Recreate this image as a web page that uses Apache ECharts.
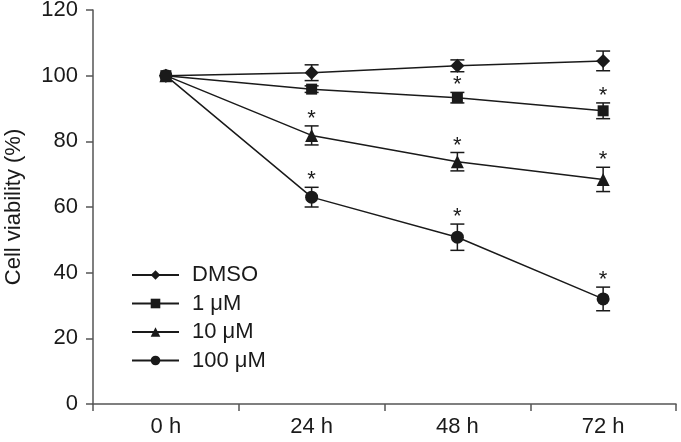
<!DOCTYPE html>
<html>
<head>
<meta charset="utf-8">
<script src="https://cdn.jsdelivr.net/npm/echarts@6/dist/echarts.min.js"></script>
<style>
  html, body { margin: 0; padding: 0; background: #fff; }
  #main { width: 681px; height: 442px; }
</style>
</head>
<body>
<div id="main"></div>
<script>
// categories and values
var categories = ['0 h', '24 h', '48 h', '72 h'];
var names = ['DMSO', '1 μM', '10 μM', '100 μM'];

var dmso = [100, 100.9, 103.0, 104.5];
var dmsoErr = [0, 2.4, 1.8, 3.0];
var dmsoSig = [0, 0, 0, 0];

var um1 = [100, 95.9, 93.3, 89.3];
var um1Err = [0, 1.0, 1.6, 2.4];
var um1Sig = [0, 0, 1, 1];

var um10 = [100, 81.8, 73.8, 68.4];
var um10Err = [0, 2.9, 2.8, 3.7];
var um10Sig = [0, 1, 1, 1];

var um100 = [100, 63.0, 50.8, 32.0];
var um100Err = [0, 3.0, 4.0, 3.6];
var um100Sig = [0, 1, 1, 1];

var yTicks = [0, 20, 40, 60, 80, 100, 120];

(function () {
    var myChart = echarts.init(document.getElementById('main'));
    var ink = '#1a1a1a';
    var axisInk = '#555';
    var font = '"Liberation Sans", Arial, sans-serif';

    var groups = [
        { name: names[0], vals: dmso, err: dmsoErr, sig: dmsoSig, symbol: 'diamond', size: 14 },
        { name: names[1], vals: um1, err: um1Err, sig: um1Sig, symbol: 'rect', size: 11 },
        { name: names[2], vals: um10, err: um10Err, sig: um10Sig, symbol: 'triangle', size: 13 },
        { name: names[3], vals: um100, err: um100Err, sig: um100Sig, symbol: 'circle', size: 13 }
    ];

    // error bar + asterisk
    function renderErr(params, api) {
        var i = api.value(0);
        var m = api.value(1);
        var e = api.value(2);
        var s = api.value(3);
        var top = api.coord([i, m + e]);
        var bot = api.coord([i, m - e]);
        var cap = 7;
        var style = { stroke: ink, lineWidth: 1.5 };
        var kids = [];
        if (e > 0) {
            kids.push({ type: 'line', shape: { x1: top[0], y1: top[1], x2: bot[0], y2: bot[1] }, style: style });
            kids.push({ type: 'line', shape: { x1: top[0] - cap, y1: top[1], x2: top[0] + cap, y2: top[1] }, style: style });
            kids.push({ type: 'line', shape: { x1: bot[0] - cap, y1: bot[1], x2: bot[0] + cap, y2: bot[1] }, style: style });
        }
        if (s) {
            kids.push({
                type: 'text',
                style: {
                    text: '*', x: top[0], y: top[1] - 7,
                    align: 'center', verticalAlign: 'middle',
                    fill: ink, font: '22px ' + font
                }
            });
        }
        return { type: 'group', children: kids };
    }

    var series = [];
    groups.forEach(function (g) {
        series.push({
            name: g.name,
            type: 'line',
            data: g.vals,
            symbol: g.symbol,
            symbolSize: g.size,
            showAllSymbol: true,
            lineStyle: { color: ink, width: 1.5 },
            itemStyle: { color: ink },
            z: 3
        });
        series.push({
            type: 'custom',
            renderItem: renderErr,
            data: g.vals.map(function (v, i) { return [i, v, g.err[i], g.sig[i]]; }),
            z: 2,
            silent: true
        });
    });

    var option = {
        animation: false,
        textStyle: { fontFamily: font },
        grid: { left: 93, right: 5, top: 10, bottom: 38, outerBoundsMode: 'none' },
        legend: {
            data: names,
            orient: 'vertical',
            left: 126,
            top: 259,
            itemWidth: 47,
            itemHeight: 12,
            itemGap: 6.5,
            textStyle: { fontSize: 22, lineHeight: 22, color: ink, padding: [0, 0, 0, 8] }
        },
        xAxis: {
            type: 'category',
            data: categories,
            boundaryGap: true,
            axisLine: { lineStyle: { color: axisInk, width: 1.5 } },
            axisTick: { show: true, length: 7, lineStyle: { color: axisInk, width: 1.5 } },
            axisLabel: { fontSize: 22, color: ink, margin: 12 },
            splitLine: { show: false }
        },
        yAxis: {
            type: 'value',
            min: yTicks[0],
            max: yTicks[yTicks.length - 1],
            interval: 20,
            name: 'Cell viability (%)',
            nameLocation: 'middle',
            nameGap: 68,
            nameTextStyle: { fontSize: 22, color: ink },
            axisLine: { show: true, lineStyle: { color: axisInk, width: 1.5 } },
            axisTick: { show: true, length: 7, lineStyle: { color: axisInk, width: 1.5 } },
            axisLabel: { fontSize: 22, color: ink, margin: 15 },
            splitLine: { show: false }
        },
        series: series
    };
    myChart.setOption(option);
})();
</script>
</body>
</html>
